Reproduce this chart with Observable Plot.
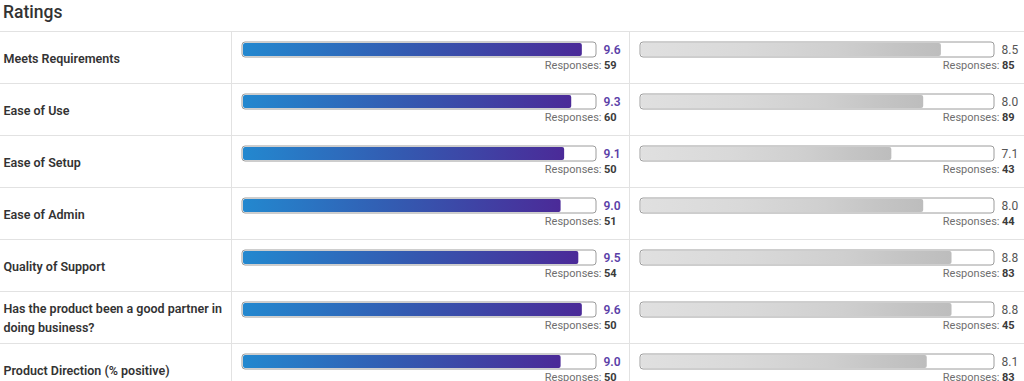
<!DOCTYPE html>
<html><head><meta charset="utf-8">
<script src="https://cdn.jsdelivr.net/npm/d3@7"></script>
<script src="https://cdn.jsdelivr.net/npm/@observablehq/plot@0.6"></script>
<style>
body{margin:0;background:#fff;font-family:Roboto, sans-serif;}
#title{height:31px;box-sizing:border-box;padding-left:3px;font-size:17.5px;font-weight:500;color:#333;line-height:24px;}
</style></head><body>
<div id="title">Ratings</div>
<div id="chart"></div>
<script>
const categories = [
  "Meets Requirements",
  "Ease of Use",
  "Ease of Setup",
  "Ease of Admin",
  "Quality of Support",
  "Has the product been a good partner in\ndoing business?",
  "Product Direction (% positive)"
];
const leftScores = [9.6, 9.3, 9.1, 9.0, 9.5, 9.6, 9.0];
const leftResponses = [59, 60, 50, 51, 54, 50, 50];
const rightScores = [8.5, 8.0, 7.1, 8.0, 8.8, 8.8, 8.1];
const rightResponses = [85, 89, 43, 44, 83, 45, 83];
const scaleMax = 10;

const rows = categories.map((c, i) => ({
  category: c,
  leftScore: leftScores[i], leftResp: leftResponses[i],
  rightScore: rightScores[i], rightResp: rightResponses[i]
}));

const RIGHT = 398; // horizontal offset of the second panel
const bandH = 52;

function panel(scoreKey, respKey, fillId, valueColor, valueWeight, off) {
  return [
    Plot.barX(rows, {x1: 0, x2: scaleMax, y: "category", dx: off, insetTop: 11, insetBottom: 26, fill: "#fff", stroke: "#9c9c9c", strokeWidth: 1, rx: 3}),
    Plot.barX(rows, {x1: 0, x2: scoreKey, y: "category", dx: off, insetTop: 12, insetBottom: 27, insetLeft: 1, fill: `url(#${fillId})`, rx: 2}),
    Plot.text(rows, {x: scaleMax, y: "category", text: d => d[scoreKey].toFixed(1), dx: off + 7, dy: -7, textAnchor: "start", fill: valueColor, fontWeight: valueWeight, fontSize: 12}),
    Plot.text(rows, {x: scaleMax, y: "category", text: d => String(d[respKey]), dx: off + 20, dy: 8, textAnchor: "end", fill: "#3a3a3a", fontWeight: 700, fontSize: 11}),
    Plot.text(rows, {x: scaleMax, y: "category", text: () => "Responses:", dx: off + 5, dy: 8, textAnchor: "end", fill: "#6f6f6f", fontWeight: 400, fontSize: 11})
  ];
}

const plot = Plot.plot({
  width: 1024, height: 350, margin: 0,
  x: {domain: [0, scaleMax], range: [242, 596], axis: null},
  y: {domain: categories, range: [0, categories.length * bandH], padding: 0, axis: null},
  style: {fontFamily: "Roboto, sans-serif", background: "#fff", overflow: "visible"},
  marks: [
    Plot.ruleY(categories, {y: d => d, dy: -bandH / 2, stroke: "#e2e2e2"}),
    Plot.ruleX([0], {x: d => d, dx: -11, stroke: "#e2e2e2"}),
    Plot.ruleX([0], {x: d => d, dx: RIGHT - 11, stroke: "#e2e2e2"}),
    Plot.text(rows, {y: "category", text: "category", frameAnchor: "left", dx: 3, dy: -1, textAnchor: "start", fontWeight: 600, fontSize: 12.5, fill: "#333", lineHeight: 1.55}),
    ...panel("leftScore", "leftResp", "gLeft", "#5b3fa8", 600, 0),
    ...panel("rightScore", "rightResp", "gRight", "#555", 400, RIGHT)
  ]
});

d3.select(plot).insert("defs", ":first-child").html(`
  <linearGradient id="gLeft" x1="0" x2="1" y1="0" y2="0">
    <stop offset="0" stop-color="#2388cf"/>
    <stop offset="0.5" stop-color="#3459b0"/>
    <stop offset="1" stop-color="#4b2a98"/>
  </linearGradient>
  <linearGradient id="gRight" x1="0" x2="1" y1="0" y2="0">
    <stop offset="0" stop-color="#e0e0e0"/>
    <stop offset="0.35" stop-color="#d9d9d9"/>
    <stop offset="0.65" stop-color="#cfcfcf"/>
    <stop offset="0.85" stop-color="#c4c4c4"/>
    <stop offset="1" stop-color="#bdbdbd"/>
  </linearGradient>`);

document.getElementById("chart").appendChild(plot);
</script>
</body></html>
